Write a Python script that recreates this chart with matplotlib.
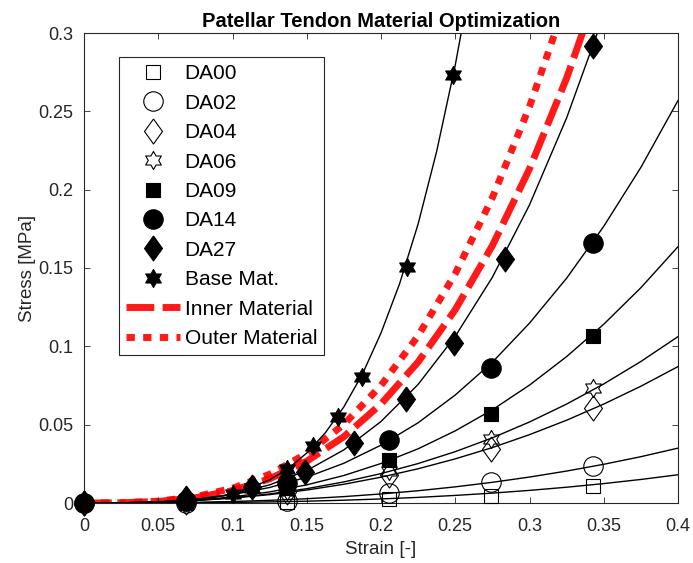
import numpy as np
import matplotlib
matplotlib.use("Agg")
import matplotlib.pyplot as plt
from matplotlib.ticker import FormatStrFormatter

plt.rcParams['font.family'] = ['Liberation Sans', 'DejaVu Sans']

# measured points (strain, stress in MPa)
strain_da = [0, 0.0685, 0.137, 0.2055, 0.274, 0.3425]
da00 = [0, 0.0002, 0.0008, 0.0024, 0.0047, 0.0108]
da02 = [0, 0.0003, 0.0015, 0.0062, 0.0136, 0.0236]
da04 = [0, 0.0008, 0.0068, 0.0179, 0.0343, 0.0604]
da06 = [0, 0.0009, 0.0075, 0.0205, 0.0408, 0.0732]
da09 = [0, 0.0010, 0.0093, 0.0274, 0.0568, 0.1066]
da14 = [0, 0.0015, 0.0130, 0.0402, 0.0864, 0.1658]

strain_da27 = [0, 0.0685, 0.113, 0.149, 0.182, 0.217, 0.249, 0.2835, 0.343]
da27 = [0, 0.003, 0.010, 0.020, 0.038, 0.0662, 0.102, 0.156, 0.292]

strain_base = [0, 0.1, 0.113, 0.137, 0.1544, 0.1713, 0.187, 0.2173, 0.2487]
base = [0, 0.0055, 0.0096, 0.022, 0.0364, 0.0547, 0.0806, 0.1508, 0.2732]

# fitted curves
curve_strain = [0, 0.025, 0.05, 0.075, 0.1, 0.125, 0.15, 0.175, 0.2, 0.225,
                0.25, 0.275, 0.3, 0.325, 0.35, 0.375, 0.4]
fit00 = [0, 0.00001, 0.00005, 0.00017, 0.00037, 0.0007, 0.00116, 0.00178, 0.00259,
         0.00359, 0.00484, 0.00631, 0.00805, 0.01007, 0.01239, 0.01503, 0.01803]
fit02 = [0, 0.00003, 0.00016, 0.00045, 0.00095, 0.0017, 0.00273, 0.00408, 0.00578,
         0.00783, 0.01031, 0.01321, 0.01656, 0.02039, 0.02471, 0.02956, 0.03502]
fit04 = [0, 0.00011, 0.00059, 0.00157, 0.00312, 0.00534, 0.00827, 0.01196, 0.01648,
         0.02185, 0.02818, 0.03538, 0.04362, 0.05284, 0.06315, 0.07453, 0.08708]
fit06 = [0, 0.0001, 0.00059, 0.00162, 0.00332, 0.0058, 0.00915, 0.01345, 0.01877,
         0.02518, 0.03278, 0.04159, 0.05172, 0.06315, 0.076, 0.09032, 0.1062]
fit09 = [0, 0.00009, 0.0006, 0.00178, 0.00388, 0.00709, 0.01158, 0.01756, 0.02522,
         0.03459, 0.04605, 0.05951, 0.07525, 0.09346, 0.1141, 0.1374, 0.1636]
fit14 = [0, 0.00011, 0.00076, 0.00237, 0.0053, 0.00991, 0.01647, 0.02536, 0.03692,
         0.05122, 0.06893, 0.08987, 0.1148, 0.1435, 0.1766, 0.2142, 0.2569]
fit27 = [0, 0.00007, 0.00062, 0.00225, 0.00565, 0.01157, 0.02072, 0.03391, 0.05203,
         0.07571, 0.1064, 0.1441, 0.1903, 0.2458, 0.3113]

base_fit_strain = [0, 0.025, 0.05, 0.075, 0.1, 0.125, 0.1375, 0.15, 0.1625, 0.175,
                   0.1875, 0.2, 0.2125, 0.225, 0.2375, 0.25, 0.2625]
base_fit = [0, 0.00002, 0.0003, 0.00168, 0.00567, 0.01471, 0.022, 0.0319, 0.0448,
            0.06137, 0.0823, 0.1085, 0.1399, 0.1781, 0.2245, 0.2795, 0.3437]

# optimized materials
mat_strain = [0, 0.025, 0.05, 0.075, 0.1, 0.125, 0.15, 0.175, 0.2, 0.225, 0.25,
              0.275, 0.3, 0.325, 0.35]
inner = [0, 0.00012, 0.00099, 0.00333, 0.0079, 0.01543, 0.02666, 0.04234, 0.0632,
         0.09, 0.1234, 0.1643, 0.2133, 0.2712, 0.3388]
outer = [0, 0.00015, 0.00117, 0.00395, 0.00937, 0.0183, 0.0316, 0.0502, 0.075,
         0.1067, 0.1464, 0.1949, 0.253, 0.3217, 0.4018]

# marker shapes: tall diamond and six-pointed star
diamond = [(0, 1), (0.72, 0), (0, -1), (-0.72, 0), (0, 1)]
k = np.arange(12)
ang = np.deg2rad(90 + 30 * k)
rad = np.where(k % 2 == 0, 1.0, 0.577)
hexagram = list(zip(rad * np.cos(ang), rad * np.sin(ang))) + [(0, 1)]

gray = '#262626'

fig = plt.figure(figsize=(6.93, 5.63), dpi=100)
ax = fig.add_axes([84 / 693, 60 / 563, 594 / 693, 470 / 563])

# red material curves underneath
h_in, = ax.plot(mat_strain, inner, color='red', lw=5, alpha=0.9,
                dashes=(4, 1.2), dash_capstyle='butt', label='Inner Material', zorder=1)
h_out, = ax.plot(mat_strain, outer, color='red', lw=5, alpha=0.9,
                 dashes=(1.2, 1.2), dash_capstyle='butt', label='Outer Material', zorder=1)

fits = [(curve_strain, fit00), (curve_strain, fit02), (curve_strain, fit04),
        (curve_strain, fit06), (curve_strain, fit09), (curve_strain, fit14),
        (curve_strain[:len(fit27)], fit27), (base_fit_strain, base_fit)]
for fx, fy in fits:
    ax.plot(fx, fy, color='k', lw=1.0, zorder=2)

series = [
    (strain_da, da00, 's', 10, 'none', 'DA00'),
    (strain_da, da02, 'o', 14, 'none', 'DA02'),
    (strain_da, da04, diamond, 18, 'none', 'DA04'),
    (strain_da, da06, hexagram, 13, 'none', 'DA06'),
    (strain_da, da09, 's', 10.5, 'k', 'DA09'),
    (strain_da, da14, 'o', 14, 'k', 'DA14'),
    (strain_da27, da27, diamond, 18, 'k', 'DA27'),
    (strain_base, base, hexagram, 13, 'k', 'Base Mat.'),
]
handles = []
for sx, sy, m, ms, fc, lab in series:
    h, = ax.plot(sx, sy, ls='none', marker=m, ms=ms, mfc=fc, mec='k', mew=0.8,
                 label=lab, zorder=3, clip_on=False)
    handles.append(h)
handles += [h_in, h_out]

ax.set_xlim(0, 0.4)
ax.set_ylim(0, 0.3)
ax.set_xticks(np.arange(0, 0.401, 0.05))
ax.set_yticks(np.arange(0, 0.301, 0.05))
ax.xaxis.set_major_formatter(FormatStrFormatter('%g'))
ax.yaxis.set_major_formatter(FormatStrFormatter('%g'))
ax.tick_params(direction='in', top=True, right=True, length=4.5, width=0.6,
               colors=gray, labelsize=13)
ax.tick_params(axis='x', pad=11)
ax.tick_params(axis='y', pad=8)
for sp in ax.spines.values():
    sp.set_color(gray)
    sp.set_linewidth(0.8)

ax.set_xlabel('Strain [-]', fontsize=13.5, color=gray, labelpad=4)
ax.set_ylabel('Stress [MPa]', fontsize=13.5, color=gray, labelpad=1)
ax.set_title('Patellar Tendon Material Optimization', fontsize=14.5,
             fontweight='bold', pad=4)

leg = ax.legend(handles=handles, loc='upper left', bbox_to_anchor=(0.0589, 0.949),
                borderaxespad=0, fontsize=15, handlelength=2.6, handletextpad=0.2,
                labelspacing=0.5, borderpad=0.35, fancybox=False, framealpha=1,
                edgecolor=gray)
leg.get_frame().set_linewidth(0.8)
leg.set_zorder(5)

fig.savefig('out.png', dpi=100)
